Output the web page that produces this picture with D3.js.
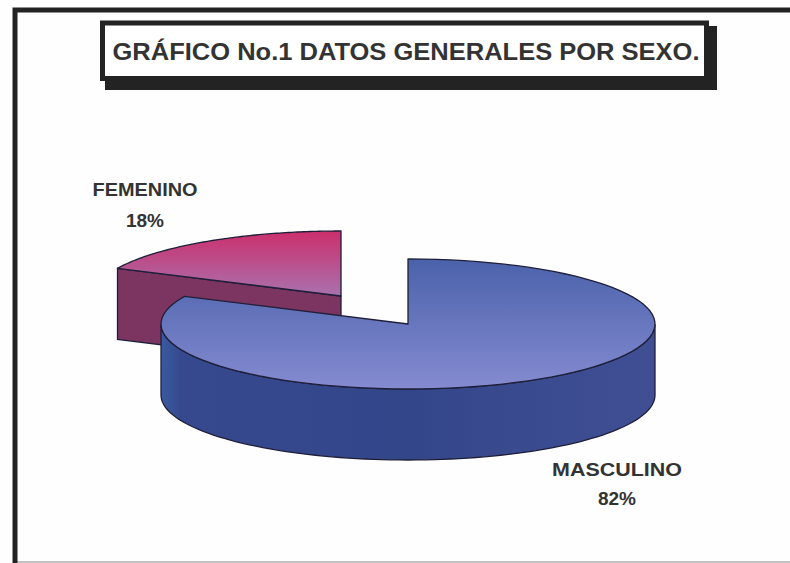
<!DOCTYPE html>
<html lang="es">
<head>
<meta charset="utf-8">
<script src="https://cdn.jsdelivr.net/npm/d3@7"></script>
<style>
  html, body { margin: 0; padding: 0; background: #fefefe; }
  svg { display: block; }
  text { font-family: "Liberation Sans", Arial, sans-serif; font-weight: 700; fill: #333; }
</style>
</head>
<body>
<div id="chart"></div>
<script>
// Sex breakdown shown as an extruded pie
const chartTitle = "GRÁFICO No.1 DATOS GENERALES POR SEXO.";
const categories = ["MASCULINO", "FEMENINO"];
const shares = [82, 18];

const width = 790, height = 563;
const radiusX = 247, radiusY = 65, depth = 71;
const centers = { MASCULINO: [408, 324], FEMENINO: [341, 296] };
const labelAnchors = { MASCULINO: [617, 476], FEMENINO: [145, 196] };
const percentBaselines = { MASCULINO: 505, FEMENINO: 227 };
const labelWidths = { MASCULINO: 130, FEMENINO: 105 };
const topColors = { MASCULINO: ["#4a62ab", "#858bd0"], FEMENINO: ["#cb2f6c", "#a972ae"] };
const wallColors = {
  MASCULINO: ["#3a5aa0", "#36498e", "#34468a", "#404f94"],
  FEMENINO: ["#7c3560", "#7c3560"]
};

const svg = d3.select("#chart").append("svg")
  .attr("width", width).attr("height", height)
  .attr("viewBox", [0, 0, width, height]);
const defs = svg.append("defs");

// Outer frame: left and top rules are heavy, the bottom one is only a faint edge
svg.append("line")
  .attr("x1", 15).attr("x2", width).attr("y1", 562).attr("y2", 562)
  .attr("stroke", "#c4c4c4").attr("stroke-width", 2);
svg.append("path")
  .attr("d", d3.line()([[15, height], [15, 10], [width, 10]]))
  .attr("fill", "none").attr("stroke", "#232323").attr("stroke-width", 5);

// Title box with a heavy drop shadow on the lower right
svg.append("rect").attr("x", 105).attr("y", 26).attr("width", 612).attr("height", 64).attr("fill", "#232323");
svg.append("rect").attr("x", 102.5).attr("y", 23).attr("width", 604).attr("height", 55.5)
  .attr("fill", "#fff").attr("stroke", "#232323").attr("stroke-width", 5);
svg.append("text")
  .attr("x", 406).attr("y", 60).attr("text-anchor", "middle")
  .attr("font-size", 24).attr("textLength", 587).attr("lengthAdjust", "spacingAndGlyphs")
  .text(chartTitle);

// Slices start at twelve o'clock and run clockwise
const slices = d3.pie().sort(null).value(d => d.share)(
  categories.map((name, i) => ({ name, share: shares[i] }))
);

const onRim = (c, angle) => [
  c[0] + radiusX * Math.sin(angle),
  c[1] - radiusY * Math.cos(angle)
];
const rimPoints = (c, a0, a1) =>
  d3.range(0, 1.0001, 1 / 90).map(t => onRim(c, a0 + (a1 - a0) * t));
const path = d3.line();
const drop = pts => pts.map(p => [p[0], p[1] + depth]);

function gradient(id, colors, horizontal) {
  const g = defs.append("linearGradient").attr("id", id)
    .attr("x1", 0).attr("y1", 0)
    .attr("x2", horizontal ? 1 : 0).attr("y2", horizontal ? 0 : 1);
  const stops = [0, ...(colors.length === 4 ? [0.04, 0.5] : []), 1];
  stops.forEach((offset, i) =>
    g.append("stop").attr("offset", offset).attr("stop-color", colors[i]));
  return `url(#${id})`;
}

// Detached slice first so the larger one overlaps it
const drawOrder = [slices[1], slices[0]];
drawOrder.forEach(s => {
  const name = s.data.name;
  const c = centers[name];
  const g = svg.append("g").attr("class", "slice");
  const outline = { stroke: "#1f1f3a", width: 1.3 };

  let wall;
  if (name === "FEMENINO") {
    // Only the cut face towards the viewer is visible
    const edge = [onRim(c, s.startAngle), c];
    wall = [...edge, ...drop(edge).reverse()];
  } else {
    // Front part of the rim, from three o'clock round to nine o'clock
    const front = rimPoints(c, Math.PI * 3 / 2, Math.PI / 2);
    wall = [...front, ...drop(front).reverse()];
  }
  g.append("path")
    .attr("d", path(wall) + "Z")
    .attr("fill", gradient(`wall-${name}`, wallColors[name], true))
    .attr("stroke", outline.stroke).attr("stroke-width", outline.width);

  const top = [c, ...rimPoints(c, s.startAngle, s.endAngle)];
  g.append("path")
    .attr("d", path(top) + "Z")
    .attr("fill", gradient(`top-${name}`, topColors[name], false))
    .attr("stroke", outline.stroke).attr("stroke-width", outline.width)
    .attr("stroke-linejoin", "round");
});

// Category and percentage labels
slices.forEach(s => {
  const name = s.data.name;
  const [x, y] = labelAnchors[name];
  svg.append("text")
    .attr("x", x).attr("y", y).attr("text-anchor", "middle")
    .attr("font-size", 19).attr("textLength", labelWidths[name]).attr("lengthAdjust", "spacingAndGlyphs")
    .text(name);
  svg.append("text")
    .attr("x", x).attr("y", percentBaselines[name]).attr("text-anchor", "middle")
    .attr("font-size", 19)
    .text(`${s.data.share}%`);
});
</script>
</body>
</html>
